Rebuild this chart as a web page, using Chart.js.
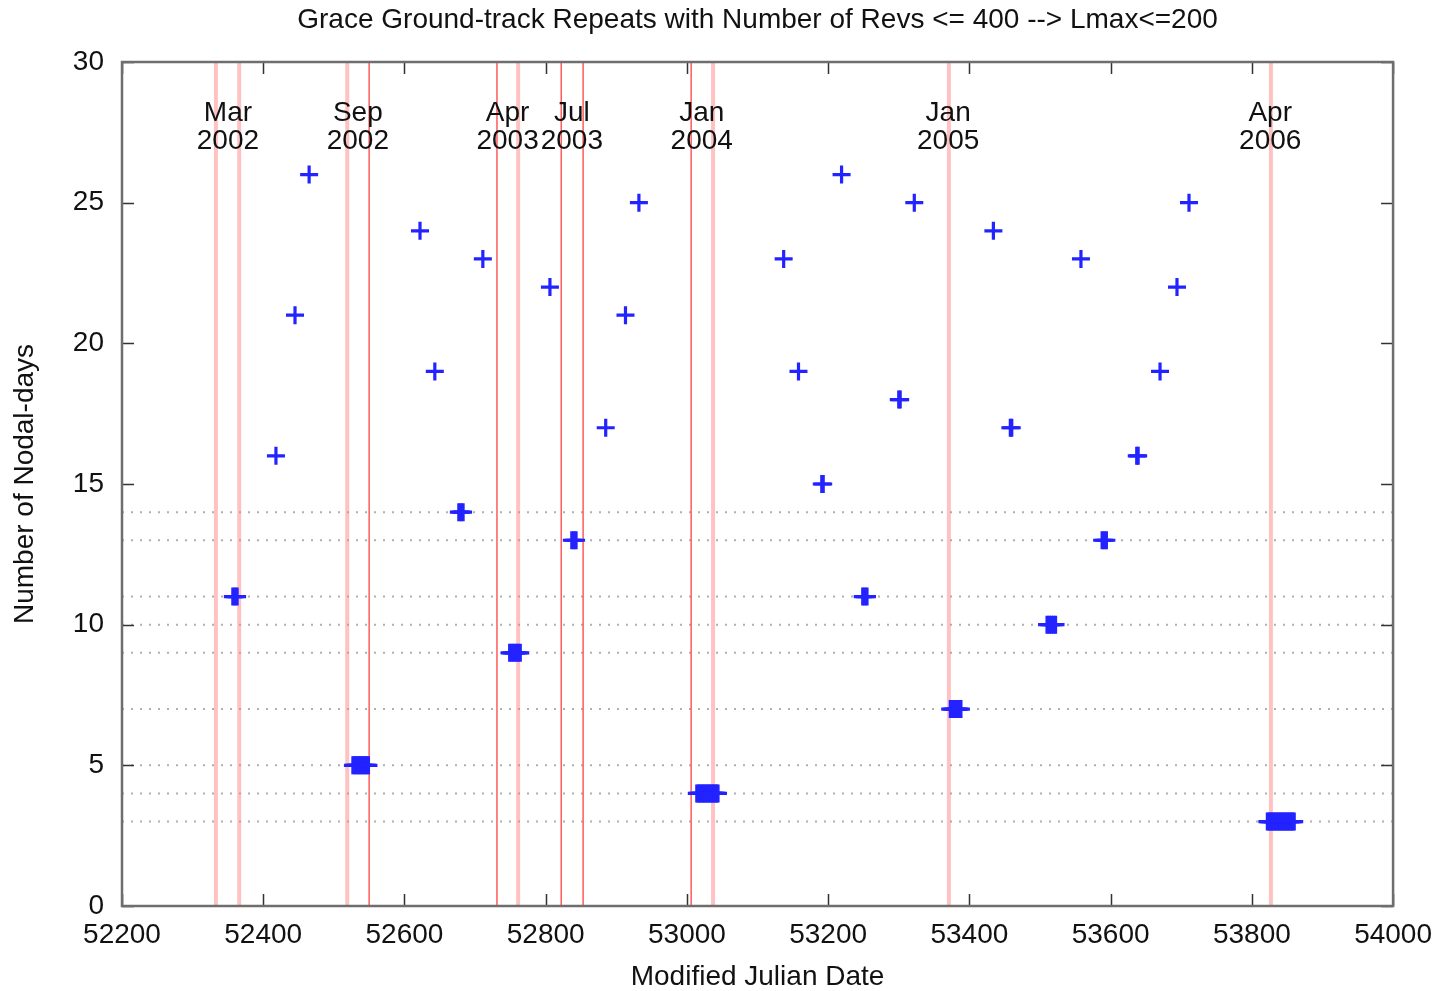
<!DOCTYPE html>
<html>
<head>
<meta charset="utf-8">
<script src="https://cdn.jsdelivr.net/npm/chart.js@4.4.1/dist/chart.umd.min.js"></script>
<style>
html,body{margin:0;padding:0;background:#fff;}
#wrap{width:1444px;height:991px;}
</style>
</head>
<body>
<div id="wrap"><canvas id="c" width="1444" height="991"></canvas></div>
<script>
// ---- data ----
const pointMJD = [
  52357,52360,52363,
  52418, 52445, 52465,
  52527,52529,52531,52533,52535,52537,52539,52541,52543,52545,52547,52549,
  52622, 52643,
  52677,52680,52683,
  52711,
  52749,52752,52755,52758,52761,52764,
  52806,
  52837,52840,52843,
  52885, 52913, 52932,
  53014,53016,53018,53020,53022,53024,53026,53028,53030,53032,53034,53036,53038,53040,53042,53044,
  53137, 53158,
  53191,53193,
  53219,
  53249,53252,53255,
  53300,53302,
  53322,
  53373,53376,53379,53382,53385,53388,
  53434,
  53458,53460,
  53510,53513,53516,53519,53522,
  53558,
  53588,53591,53594,
  53637,53639,
  53670, 53694, 53711,
  53822,53824,53826,53828,53830,53832,53834,53836,53838,53840,53842,53844,53846,53848,53850,53852,53854,53856,53858,53860
];
const pointDays = [
  11,11,11,
  16, 21, 26,
  5,5,5,5,5,5,5,5,5,5,5,5,
  24, 19,
  14,14,14,
  23,
  9,9,9,9,9,9,
  22,
  13,13,13,
  17, 21, 25,
  4,4,4,4,4,4,4,4,4,4,4,4,4,4,4,4,
  23, 19,
  15,15,
  26,
  11,11,11,
  18,18,
  25,
  7,7,7,7,7,7,
  24,
  17,17,
  10,10,10,10,10,
  23,
  13,13,13,
  16,16,
  19, 22, 25,
  3,3,3,3,3,3,3,3,3,3,3,3,3,3,3,3,3,3,3,3
];
const wideEventMJD = [52333, 52366, 52519, 52761, 53037, 53371, 53827];
const thinEventMJD = [52550, 52731, 52822, 52853, 53006];
const dottedDays = [14, 13, 11, 10, 9, 7, 5, 4, 3];
const labelMJD = [52350, 52534, 52746, 52837, 53021, 53370, 53826];
const labelMonth = ['Mar', 'Sep', 'Apr', 'Jul', 'Jan', 'Jan', 'Apr'];
const labelYear = ['2002', '2002', '2003', '2003', '2004', '2005', '2006'];
const xTicks = [52200, 52400, 52600, 52800, 53000, 53200, 53400, 53600, 53800, 54000];
const yTicks = [0, 5, 10, 15, 20, 25, 30];
const xMin = 52200, xMax = 54000, yMin = 0, yMax = 30;

const FONT = '"Liberation Sans", Arial, Helvetica, sans-serif';

// ---- datasets ----
const datasets = [];
dottedDays.forEach(d => datasets.push({
  type: 'line', data: [{x: xMin, y: d}, {x: xMax, y: d}],
  borderColor: 'rgb(175,175,175)', borderWidth: 2, borderDash: [2, 7],
  pointRadius: 0, order: 5
}));
wideEventMJD.forEach(m => datasets.push({
  type: 'line', data: [{x: m, y: yMin}, {x: m, y: yMax}],
  borderColor: 'rgba(255,120,120,0.45)', borderWidth: 4,
  pointRadius: 0, order: 4
}));
thinEventMJD.forEach(m => datasets.push({
  type: 'line', data: [{x: m, y: yMin}, {x: m, y: yMax}],
  borderColor: 'rgb(255,90,90)', borderWidth: 1.5,
  pointRadius: 0, order: 3
}));
datasets.push({
  type: 'scatter',
  data: pointMJD.map((m, i) => ({x: m, y: pointDays[i]})),
  pointStyle: 'cross', pointRadius: 9, borderWidth: 3.2,
  borderColor: 'rgb(35,35,255)', backgroundColor: 'rgb(35,35,255)',
  order: 1
});

// ---- plugins ----
const framePlugin = {
  id: 'frame',
  afterDatasetsDraw(chart) {
    const {ctx, chartArea: a, scales: {x, y}} = chart;
    ctx.save();
    // month/year labels
    ctx.fillStyle = '#111';
    ctx.font = '28px ' + FONT;
    ctx.textAlign = 'center';
    ctx.textBaseline = 'middle';
    labelMJD.forEach((m, i) => {
      const px = x.getPixelForValue(m);
      ctx.fillText(labelMonth[i], px, a.top + 51);
      ctx.fillText(labelYear[i], px, a.top + 79);
    });
    // inner tick marks
    ctx.strokeStyle = '#333';
    ctx.lineWidth = 1.5;
    ctx.beginPath();
    xTicks.forEach(v => {
      const px = Math.round(x.getPixelForValue(v)) + 0.5;
      ctx.moveTo(px, a.bottom); ctx.lineTo(px, a.bottom - 12);
      ctx.moveTo(px, a.top); ctx.lineTo(px, a.top + 12);
    });
    yTicks.forEach(v => {
      const py = Math.round(y.getPixelForValue(v)) + 0.5;
      ctx.moveTo(a.left, py); ctx.lineTo(a.left + 12, py);
      ctx.moveTo(a.right, py); ctx.lineTo(a.right - 12, py);
    });
    ctx.stroke();
    // border
    ctx.strokeStyle = 'rgb(110,110,110)';
    ctx.lineWidth = 2.5;
    ctx.strokeRect(a.left, a.top, a.right - a.left, a.bottom - a.top);
    ctx.restore();
  }
};

new Chart(document.getElementById('c'), {
  data: {datasets},
  plugins: [framePlugin],
  options: {
    responsive: false,
    devicePixelRatio: 1,
    animation: false,
    layout: {padding: {left: 0, right: 50, top: 0, bottom: 0}},
    plugins: {
      legend: {display: false},
      tooltip: {enabled: false},
      title: {
        display: true,
        fullSize: false,
        text: 'Grace Ground-track Repeats with Number of Revs <= 400 --> Lmax<=200',
        color: '#111',
        font: {family: FONT, size: 28, weight: 'normal', lineHeight: 1},
        padding: {top: 6, bottom: 28}
      }
    },
    scales: {
      x: {
        type: 'linear', min: xMin, max: xMax,
        afterBuildTicks(s) { s.ticks = xTicks.map(v => ({value: v})); },
        afterFit(s) { s.height = 85; },
        grid: {display: false, drawTicks: false},
        border: {display: false},
        ticks: {color: '#111', font: {family: FONT, size: 28}, padding: 12, maxRotation: 0, autoSkip: false,
          callback: v => String(v)},
        title: {display: true, text: 'Modified Julian Date', color: '#111',
          font: {family: FONT, size: 28, lineHeight: 1}, padding: {top: 0, bottom: 0}}
      },
      y: {
        type: 'linear', min: yMin, max: yMax,
        afterBuildTicks(s) { s.ticks = yTicks.map(v => ({value: v})); },
        afterFit(s) { s.width = 122; },
        grid: {display: false, drawTicks: false},
        border: {display: false},
        ticks: {color: '#111', font: {family: FONT, size: 28}, padding: 18, callback: v => String(v)},
        title: {display: true, text: 'Number of Nodal-days', color: '#111',
          font: {family: FONT, size: 28, lineHeight: 1}, padding: {top: 11, bottom: 0}}
      }
    }
  }
});
</script>
</body>
</html>
